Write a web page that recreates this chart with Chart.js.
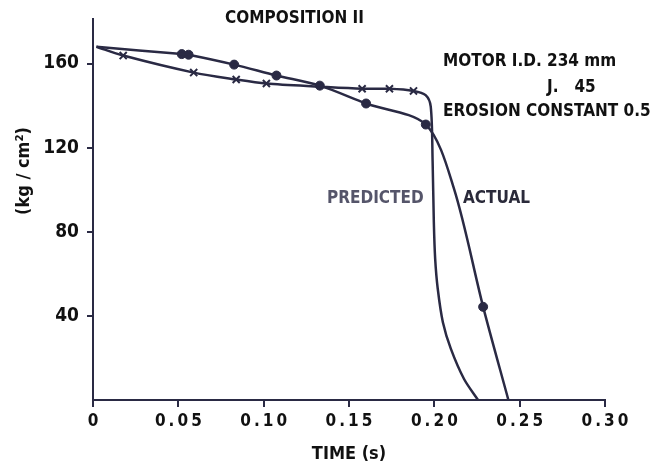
<!DOCTYPE html>
<html>
<head>
<meta charset="utf-8">
<script src="https://cdn.jsdelivr.net/npm/chart.js@4.4.1/dist/chart.umd.min.js"></script>
<style>
  html, body { margin: 0; padding: 0; background: #fff; }
  #wrap { width: 667px; height: 466px; }
</style>
</head>
<body>
<div id="wrap"><canvas id="chart" width="667" height="466"></canvas></div>
<script>
// actual chamber pressure (kg/cm2) vs time (s), the line
const actualTime  = [0.002, 0.052, 0.056, 0.0827, 0.1075, 0.1329, 0.160, 0.195, 0.2115, 0.2286, 0.2434];
const actualPress = [168,   164.5, 164.2, 159.5,  154.3,  149.5,  141,   131,   100.5,  44.3,   0];
// actual, the measured points (circles)
const actualMarkTime  = [0.052, 0.056, 0.0827, 0.1075, 0.1329, 0.160, 0.195, 0.2286];
const actualMarkPress = [164.5, 164.2, 159.5,  154.3,  149.5,  141,   131,   44.3];

// predicted pressure, the line
const predTime  = [0.002, 0.0177, 0.059, 0.0839, 0.1016, 0.1329, 0.1577, 0.1737, 0.1878, 0.1949, 0.1979, 0.199, 0.1997, 0.2005, 0.202, 0.205, 0.2097, 0.2174, 0.2256];
const predPress = [168,   163.8,  155.7, 152.4,  150.5,  149,    148,    148,    147,    145,    139.5,  113.3, 84.8,   67,     52.9,  37,    24.3,   10,     0];
// predicted, the computed points (crosses)
const predMarkTime  = [0.0177, 0.059, 0.0839, 0.1016, 0.1577, 0.1737, 0.1878];
const predMarkPress = [163.8,  155.7, 152.4,  150.5,  148,    148,    147];

const xTicks = [0, 0.05, 0.10, 0.15, 0.20, 0.25, 0.30];
const yTicks = [40, 80, 120, 160];

const INK = '#2a2a44';
const FONT = "'DejaVu Sans Condensed', 'Liberation Sans Narrow', sans-serif";

Chart.defaults.font.family = FONT;
Chart.defaults.font.weight = 'bold';
Chart.defaults.color = '#111';

function toXY(xs, ys) {
  return xs.map((x, i) => ({ x: x, y: ys[i] }));
}

function fmtTime(v) {
  if (v === 0) return '0';
  return v.toFixed(2).split('').join('\u2009');
}

const notes = {
  id: 'notes',
  afterDraw(chart) {
    const c = chart.ctx;
    c.save();
    c.textBaseline = 'middle';
    c.textAlign = 'left';
    c.font = 'bold 17px ' + FONT;
    c.fillStyle = '#111';
    c.fillText('COMPOSITION II', 225, 19);
    c.fillText('MOTOR I.D. 234 mm', 443, 62);
    c.fillText('J.   45', 547, 88);
    c.fillText('EROSION CONSTANT 0.5', 443, 112);
    c.fillStyle = '#55556a';
    c.fillText('PREDICTED', 327, 199);
    c.fillStyle = '#2a2a3a';
    c.fillText('ACTUAL', 463, 199);

    // y axis title
    c.font = 'bold 18px ' + FONT;
    c.fillStyle = '#111';
    c.translate(24, 171);
    c.rotate(-Math.PI / 2);
    c.textAlign = 'center';
    c.fillText('(kg / cm\u00b2)', 0, 0);
    c.restore();
  }
};

const lineBase = {
  showLine: true,
  borderColor: INK,
  borderWidth: 2.5,
  pointRadius: 0,
  tension: 0.3,
  fill: false
};

new Chart(document.getElementById('chart'), {
  type: 'scatter',
  data: {
    datasets: [
      Object.assign({ label: 'Actual', data: toXY(actualTime, actualPress) }, lineBase),
      Object.assign({ label: 'Predicted', data: toXY(predTime, predPress) }, lineBase),
      {
        label: 'Actual points',
        data: toXY(actualMarkTime, actualMarkPress),
        pointStyle: 'circle',
        pointRadius: 4.5,
        backgroundColor: INK,
        borderColor: INK,
        borderWidth: 1
      },
      {
        label: 'Predicted points',
        data: toXY(predMarkTime, predMarkPress),
        pointStyle: 'crossRot',
        pointRadius: 5,
        borderColor: INK,
        borderWidth: 2
      }
    ]
  },
  options: {
    responsive: false,
    animation: false,
    layout: { padding: { top: 18, right: 62, left: 0, bottom: 0 } },
    plugins: {
      legend: { display: false },
      tooltip: { enabled: false }
    },
    scales: {
      x: {
        type: 'linear',
        min: 0,
        max: 0.30,
        afterBuildTicks: s => { s.ticks = xTicks.map(v => ({ value: v })); },
        afterFit: s => { s.height = 66; },
        grid: { drawOnChartArea: false, tickLength: 7, color: INK, lineWidth: 2 },
        border: { color: INK, width: 2 },
        ticks: { font: { size: 17 }, padding: 4, maxRotation: 0, autoSkip: false, callback: v => fmtTime(v) },
        title: { display: true, text: 'TIME (s)', font: { size: 18 }, padding: { top: 0, bottom: 1 } }
      },
      y: {
        type: 'linear',
        min: 0,
        max: 181,
        afterBuildTicks: s => { s.ticks = yTicks.map(v => ({ value: v })); },
        afterFit: s => { s.width = 93; },
        grid: { drawOnChartArea: false, tickLength: 6, color: INK, lineWidth: 2 },
        border: { color: INK, width: 2 },
        ticks: { font: { size: 19 }, padding: 8, autoSkip: false }
      }
    }
  },
  plugins: [notes]
});
</script>
</body>
</html>
